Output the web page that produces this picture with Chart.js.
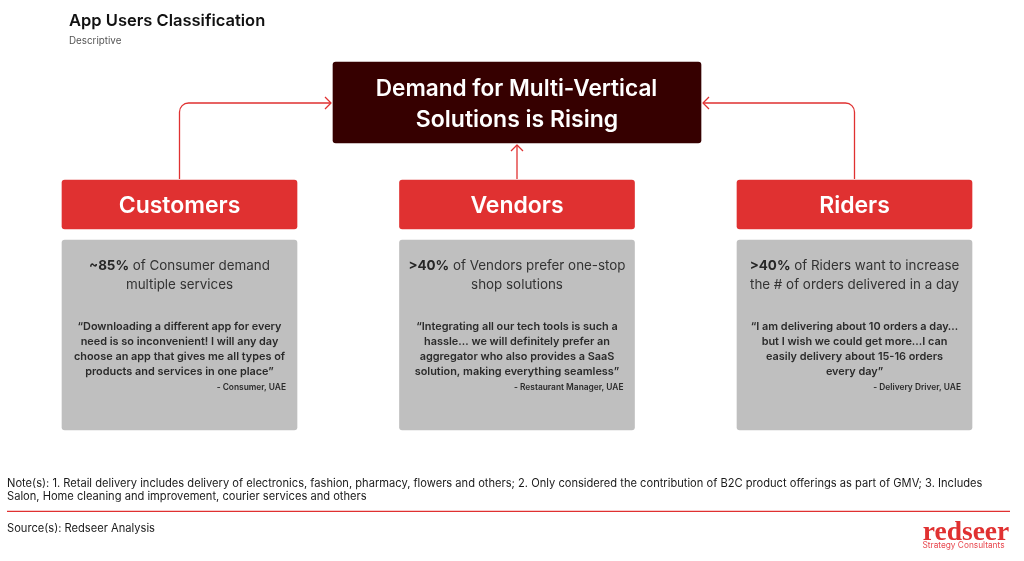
<!DOCTYPE html>
<html>
<head>
<meta charset="utf-8">
<title>App Users Classification</title>
<style>
  html, body { margin: 0; padding: 0; background: #fff; }
  canvas { display: block; }
</style>
</head>
<body>
<canvas id="board" width="1024" height="561"></canvas>
<script src="https://cdn.jsdelivr.net/npm/chart.js@4/dist/chart.umd.min.js"></script>
<script>
const chartTitle = 'App Users Classification';
const chartSubtitle = 'Descriptive';
const headline = ['Demand for Multi-Vertical', 'Solutions is Rising'];
const groups = ['Customers', 'Vendors', 'Riders'];

const statValues = ['~85%', '>40%', '>40%'];
const statLine1 = [' of Consumer demand', ' of Vendors prefer one-stop', ' of Riders want to increase'];
const statLine2 = ['multiple services', 'shop solutions', 'the # of orders delivered in a day'];

const quotes = [
  ['“Downloading a different app for every', 'need is so inconvenient! I will any day', 'choose an app that gives me all types of', 'products and services in one place”'],
  ['“Integrating all our tech tools is such a', 'hassle… we will definitely prefer an', 'aggregator who also provides a SaaS', 'solution, making everything seamless”'],
  ['“I am delivering about 10 orders a day…', 'but I wish we could get more...I can', 'easily delivery about 15-16 orders', 'every day”']
];
const quoteBy = ['- Consumer, UAE', '- Restaurant Manager, UAE', '- Delivery Driver, UAE'];

const notes = [
  'Note(s): 1. Retail delivery includes delivery of electronics, fashion, pharmacy, flowers and others; 2. Only considered the contribution of B2C product offerings as part of GMV; 3. Includes',
  'Salon, Home cleaning and improvement, courier services and others'
];
const sourceLine = 'Source(s): Redseer Analysis';
const logoWord = 'redseer';
const logoTag = 'Strategy Consultants';

// vertical extents of the boxes, y axis runs in page pixels
const headlineSpan = [62, 143];
const headerSpan = [180, 229];
const panelSpan = [240, 430];

const RED = '#E03131';
const DARK = '#360000';
const GREY = '#BFBFBF';
const TEXT = '#333333';
const FONT = 'Inter, "Noto Sans", sans-serif';

function put(ctx, str, x, y, font, color, align) {
  ctx.font = font;
  ctx.fillStyle = color;
  ctx.textAlign = align || 'left';
  ctx.textBaseline = 'alphabetic';
  ctx.fillText(str, x, y);
}

// little helper for the "bold + regular" stat line
function putMixed(ctx, bold, rest, cx, y) {
  const boldFont = '700 13.4px ' + FONT;
  const restFont = '400 13.4px ' + FONT;
  ctx.font = boldFont;
  const w1 = ctx.measureText(bold).width;
  ctx.font = restFont;
  const w2 = ctx.measureText(rest).width;
  const left = cx - (w1 + w2) / 2;
  put(ctx, bold, left, y, boldFont, '#262626');
  put(ctx, rest, left + w1, y, restFont, TEXT);
}

function arrowHead(ctx, x, y, dx, dy) {
  // open chevron pointing along dx,dy
  const s = 6;
  ctx.beginPath();
  ctx.moveTo(x - dx * s - dy * s, y - dy * s - dx * s);
  ctx.lineTo(x, y);
  ctx.lineTo(x - dx * s + dy * s, y - dy * s + dx * s);
  ctx.stroke();
}

const boardPlugin = {
  id: 'board',
  afterDatasetsDraw(chart) {
    const ctx = chart.ctx;
    const top = chart.getDatasetMeta(0).data[1];
    const headers = chart.getDatasetMeta(1).data;
    const panels = chart.getDatasetMeta(2).data;
    const topLeft = top.x - top.width / 2;
    const topRight = top.x + top.width / 2;
    const topMid = Math.round((top.y + top.base) / 2);

    ctx.save();

    // connectors
    ctx.strokeStyle = RED;
    ctx.lineWidth = 1.3;
    ctx.lineJoin = 'round';
    [[0, topLeft - 2, 1], [2, topRight + 2, -1]].forEach(([i, tipX, dir]) => {
      const x = headers[i].x;
      const y = Math.min(headers[i].y, headers[i].base) - 1;
      ctx.beginPath();
      ctx.moveTo(x, y);
      ctx.arcTo(x, topMid, tipX, topMid, 9);
      ctx.lineTo(tipX, topMid);
      ctx.stroke();
      arrowHead(ctx, tipX, topMid, dir, 0);
    });
    const midX = headers[1].x;
    const tipY = Math.max(top.y, top.base) + 2;
    ctx.beginPath();
    ctx.moveTo(midX, Math.min(headers[1].y, headers[1].base) - 1);
    ctx.lineTo(midX, tipY);
    ctx.stroke();
    arrowHead(ctx, midX, tipY, 0, -1);

    // heading
    put(ctx, chartTitle, 69, 26, '600 16.5px ' + FONT, '#111111');
    put(ctx, chartSubtitle, 69, 44, '400 9.8px ' + FONT, '#555555');

    // headline box
    put(ctx, headline[0], top.x - 0.5, 96, '600 22.6px ' + FONT, '#FFFFFF', 'center');
    put(ctx, headline[1], top.x, 127, '600 23px ' + FONT, '#FFFFFF', 'center');

    // columns
    groups.forEach((name, i) => {
      const cx = headers[i].x;
      put(ctx, name, cx, 213, '600 23px ' + FONT, '#FFFFFF', 'center');
      putMixed(ctx, statValues[i], statLine1[i], panels[i].x, 270);
      put(ctx, statLine2[i], cx, 289, '400 13.4px ' + FONT, TEXT, 'center');
      quotes[i].forEach((line, k) => {
        put(ctx, line, cx, 330 + k * 15, '600 10.9px ' + FONT, '#2B2B2B', 'center');
      });
      put(ctx, quoteBy[i], cx + panels[i].width / 2 - 11, 390, '600 8.4px ' + FONT, '#2B2B2B', 'right');
    });

    // footer
    put(ctx, notes[0], 7, 487, '400 11.14px ' + FONT, '#1A1A1A');
    put(ctx, notes[1], 7, 500, '400 11.14px ' + FONT, '#1A1A1A');
    ctx.strokeStyle = RED;
    ctx.lineWidth = 1.2;
    ctx.beginPath();
    ctx.moveTo(7, 511.4);
    ctx.lineTo(1010, 511.4);
    ctx.stroke();
    put(ctx, sourceLine, 7, 532, '400 11.14px ' + FONT, '#1A1A1A');

    // logo
    put(ctx, logoWord, 966, 540, '700 27.5px "Liberation Serif", serif', RED, 'center');
    put(ctx, logoTag, 963.5, 548, '400 8.3px ' + FONT, '#E8474E', 'center');

    ctx.restore();
  }
};

new Chart(document.getElementById('board'), {
  type: 'bar',
  data: {
    labels: groups,
    datasets: [
      { data: [null, headlineSpan, null], backgroundColor: DARK, barThickness: 368, borderRadius: 3, grouped: false, borderSkipped: false },
      { data: groups.map(() => headerSpan), backgroundColor: RED, barThickness: 235, borderRadius: 3, grouped: false, borderSkipped: false },
      { data: groups.map(() => panelSpan), backgroundColor: GREY, barThickness: 235, borderRadius: 3, grouped: false, borderSkipped: false }
    ]
  },
  options: {
    responsive: false,
    animation: false,
    devicePixelRatio: 1,
    layout: { padding: { left: 10.75, right: 0.75, top: 0, bottom: 0 } },
    plugins: { legend: { display: false }, tooltip: { enabled: false } },
    scales: {
      x: { display: false },
      y: { display: false, reverse: true, min: 0, max: 561 }
    }
  },
  plugins: [boardPlugin]
});
</script>
</body>
</html>
